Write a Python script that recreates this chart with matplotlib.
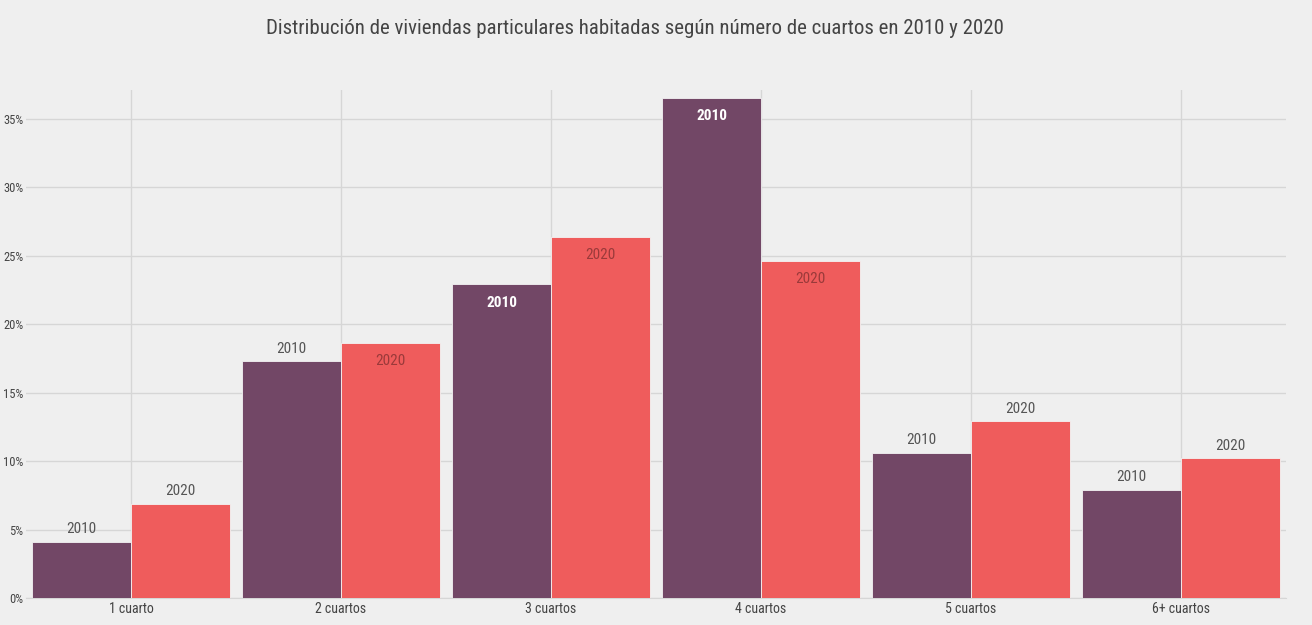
"""
Distribución de viviendas particulares habitadas según número de cuartos.
Grouped bars 2010 vs 2020.
"""

import matplotlib
matplotlib.use("Agg")
import matplotlib.pyplot as plt
from matplotlib import font_manager
import numpy as np

CATEGORIES = ["1 cuarto", "2 cuartos", "3 cuartos", "4 cuartos", "5 cuartos", "6+ cuartos"]
YEARS = ["2010", "2020"]
VALUES_2010 = [4.1, 17.3, 22.9, 36.5, 10.6, 7.9]
VALUES_2020 = [6.9, 18.6, 26.4, 24.6, 12.9, 10.2]
Y_TICKS = [0, 5, 10, 15, 20, 25, 30, 35]

BG = "#efefef"
COLOR_2010 = "#724766"
COLOR_2020 = "#ef5c5c"
INSIDE_MIN = 18  # bars taller than this get their label inside


def pick_font():
    names = {f.name for f in font_manager.fontManager.ttflist}
    for name in ["Liberation Sans Narrow", "Roboto Condensed", "Open Sans", "Roboto"]:
        if name in names:
            return name
    return "DejaVu Sans"


def main():
    plt.rcParams["font.family"] = [pick_font(), "DejaVu Sans"]

    fig = plt.figure(figsize=(13.12, 6.25), dpi=100, facecolor=BG)
    ax = fig.add_axes([26 / 1312, 27 / 625, 1260 / 1312, 508 / 625])
    ax.set_facecolor(BG)

    x = np.arange(len(CATEGORIES))
    width = 0.47
    series = [
        (VALUES_2010, COLOR_2010, -width / 2, "white"),
        (VALUES_2020, COLOR_2020, width / 2, "#9a3a3a"),
    ]
    for (values, color, offset, inside_color), year in zip(series, YEARS):
        bars = ax.bar(x + offset, values, width, color=color,
                      edgecolor="#f3f3f3", linewidth=0.6, zorder=3)
        for bar, v in zip(bars, values):
            cx = bar.get_x() + bar.get_width() / 2
            if v > INSIDE_MIN:
                ax.annotate(year, (cx, v), xytext=(0, -8), textcoords="offset points",
                            ha="center", va="top", fontsize=11, color=inside_color,
                            fontweight="bold" if inside_color == "white" else "normal",
                            zorder=4)
            else:
                ax.annotate(year, (cx, v), xytext=(0, 4), textcoords="offset points",
                            ha="center", va="bottom", fontsize=11, color="#555555",
                            zorder=4)

    ax.set_xlim(-0.5, len(CATEGORIES) - 0.5)
    ax.set_ylim(0, 37.1)
    ax.set_xticks(x)
    ax.set_xticklabels(CATEGORIES, fontsize=10, color="#444444")
    ax.set_yticks(Y_TICKS)
    ax.set_yticklabels([f"{t}%" for t in Y_TICKS], fontsize=9, color="#444444")
    ax.tick_params(length=0, pad=3)
    ax.tick_params(axis="y", pad=2)

    ax.grid(True, color="#d6d6d6", linewidth=1, zorder=0)
    for side in ["top", "right", "left"]:
        ax.spines[side].set_visible(False)
    ax.spines["bottom"].set_color("#d6d6d6")

    fig.text(635 / 1312, 1 - 28 / 625,
             "Distribución de viviendas particulares habitadas según número de cuartos en 2010 y 2020",
             ha="center", va="center", fontsize=15, color="#444444")

    fig.savefig("out.png", dpi=100, facecolor=BG)


if __name__ == "__main__":
    main()
